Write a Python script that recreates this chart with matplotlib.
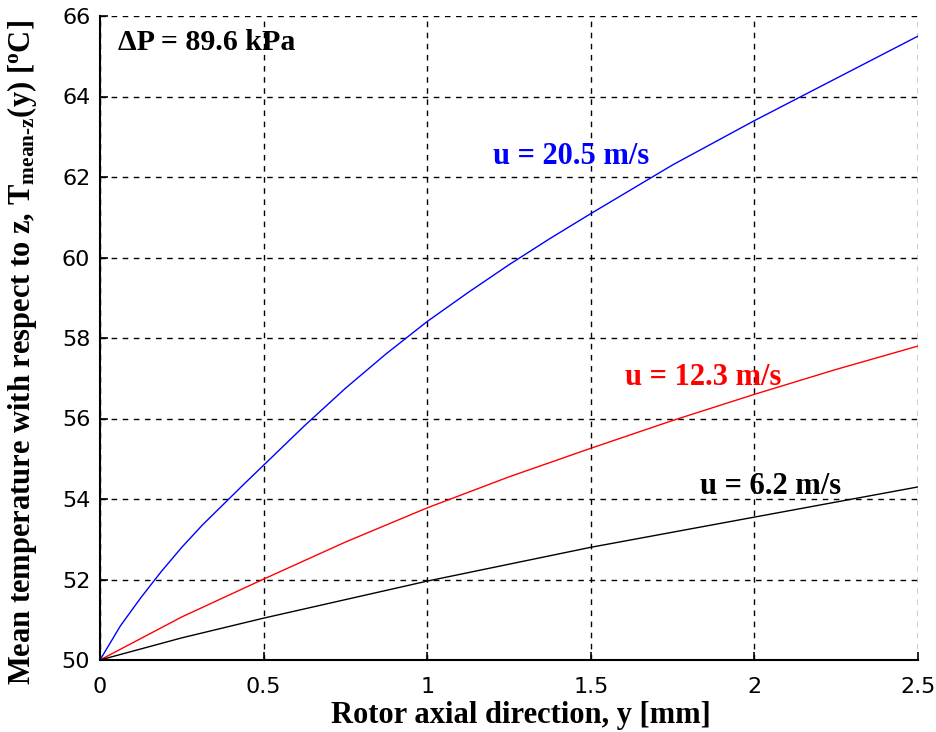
import matplotlib
matplotlib.use("Agg")
import matplotlib.pyplot as plt
import numpy as np

# Data
y_blue = [0, 0.0625, 0.125, 0.1875, 0.25, 0.3125, 0.375, 0.4375, 0.5, 0.625, 0.75, 0.875,
          1.0, 1.125, 1.25, 1.375, 1.5, 1.75, 2.0, 2.25, 2.5]
t_blue = [50, 50.85, 51.55, 52.2, 52.8, 53.35, 53.85, 54.35, 54.84, 55.82, 56.75, 57.61,
          58.41, 59.13, 59.82, 60.47, 61.09, 62.3, 63.4, 64.45, 65.5]

y_red = [0, 0.25, 0.5, 0.75, 1.0, 1.25, 1.5, 1.75, 2.0, 2.25, 2.5]
t_red = [50, 51.07, 52.01, 52.93, 53.78, 54.55, 55.26, 55.95, 56.6, 57.22, 57.8]

y_black = [0, 0.25, 0.5, 0.75, 1.0, 1.5, 2.0, 2.5]
t_black = [50, 50.55, 51.04, 51.5, 51.96, 52.8, 53.55, 54.3]

labels = ["u = 20.5 m/s", "u = 12.3 m/s", "u = 6.2 m/s"]
xticks = [0, 0.5, 1, 1.5, 2, 2.5]
xticklabels = ["0", "0.5", "1", "1.5", "2", "2.5"]
yticks = [50, 52, 54, 56, 58, 60, 62, 64, 66]

plt.rcParams['mathtext.fontset'] = 'custom'
plt.rcParams['mathtext.rm'] = 'Liberation Serif:bold'
plt.rcParams['mathtext.bf'] = 'Liberation Serif:bold'
plt.rcParams['mathtext.it'] = 'Liberation Serif:bold'

fig = plt.figure(figsize=(9.37, 7.32), dpi=100)
ax = fig.add_axes([100/937, 72/732, 818/937, 644/732])

ax.plot(y_blue, t_blue, color='#0000ff', lw=1.0)
ax.plot(y_red, t_red, color='#ff0000', lw=1.0)
ax.plot(y_black, t_black, color='black', lw=1.0)

ax.set_xlim(0, 2.5)
ax.set_ylim(50, 66)
ax.set_xticks(xticks)
ax.set_xticklabels(xticklabels)
ax.set_yticks(yticks)

ax.grid(True, color='black', linestyle=(0, (4, 4)), linewidth=1.0)
for s in ['top', 'right']:
    ax.spines[s].set_visible(False)
for s in ['left', 'bottom']:
    ax.spines[s].set_linewidth(1.5)

ax.tick_params(direction='in', length=6, width=1.2, labelsize=16)
ax.tick_params(axis='x', pad=12)
ax.tick_params(axis='y', pad=7)
for lab in ax.get_xticklabels() + ax.get_yticklabels():
    lab.set_family('DejaVu Sans')

serif = dict(family='Liberation Serif', weight='bold')
ax.set_xlabel("Rotor axial direction, y [mm]", fontsize=22, **serif)
ax.set_ylabel("Mean temperature with respect to z, T$_{\\mathrm{mean\u2010z}}$(y) [$^{\\mathrm{o}}$C]",
              fontsize=22, **serif)
ax.xaxis.set_label_coords(0.515, -0.064)
ax.yaxis.set_label_coords(-0.074, 0.478)

ax.text(0.055, 65.35, "\u0394P = 89.6 kPa", fontsize=21.5, color='black', va='center', **serif)
ax.text(1.2, 62.5, labels[0], fontsize=22, color='#0000ff', va='center', **serif)
ax.text(1.605, 57.03, labels[1], fontsize=22, color='#ff0000', va='center', **serif)
ax.text(1.835, 54.32, labels[2], fontsize=22, color='black', va='center', **serif)

fig.savefig("out.png", dpi=100, facecolor='white')
